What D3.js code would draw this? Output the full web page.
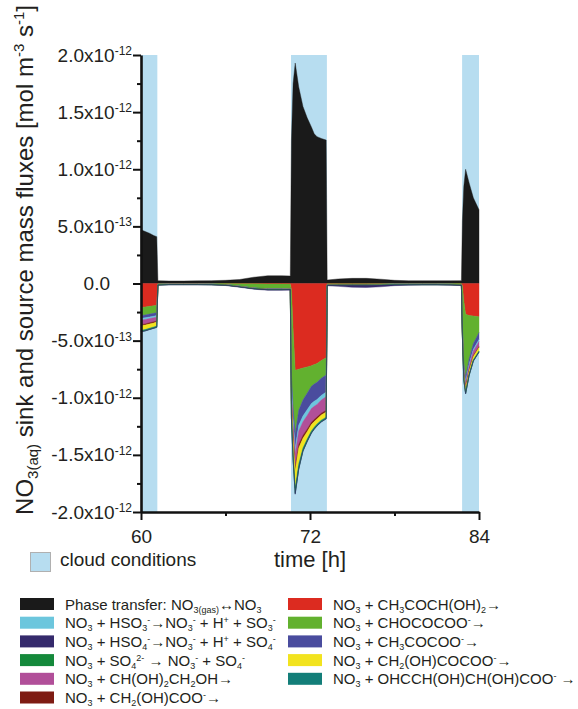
<!DOCTYPE html>
<html>
<head>
<meta charset="utf-8">
<script src="https://cdn.jsdelivr.net/npm/d3@7"></script>
<style>
  html, body { margin: 0; padding: 0; background: #fff; }
  svg { display: block; font-family: "Liberation Sans", Arial, Helvetica, sans-serif; }
</style>
</head>
<body>
<svg id="chart" width="578" height="709"></svg>
<script>
// ---------------- DATA (values in units of 1e-12 mol m-3 s-1) ----------------
const times = [60.0, 60.3, 60.6, 60.9, 61.12, 61.2, 62, 63, 64, 65, 66, 67, 68, 69, 70, 70.6,
  70.68, 70.8, 70.95, 71.2, 71.5, 71.8, 72.1, 72.3, 72.5, 72.8, 73.15,
  73.22, 74, 75, 76, 77, 78, 79, 80, 81, 82, 82.75,
  82.82, 82.92, 83.05, 83.3, 83.6, 84.0];

const phaseTransfer = [0.47, 0.455, 0.44, 0.42, 0.41,
  0.025, 0.022, 0.022, 0.023, 0.025, 0.028, 0.035, 0.055, 0.068, 0.068, 0.066,
  1.25, 1.75, 1.93, 1.72, 1.55, 1.45, 1.37, 1.31, 1.285, 1.27, 1.255,
  0.03, 0.04, 0.045, 0.045, 0.038, 0.028, 0.024, 0.024, 0.024, 0.024, 0.025,
  0.55, 0.85, 1.0, 0.88, 0.75, 0.645];

const ch3coch_oh2 = [-0.21, -0.205, -0.2, -0.195, -0.19,
  -0.002, -0.001, -0.001, -0.001, -0.001, -0.001, -0.002, -0.003, -0.004, -0.004, -0.004,
  -0.05, -0.4, -0.76, -0.75, -0.74, -0.73, -0.72, -0.71, -0.70, -0.675, -0.65,
  -0.003, -0.002, -0.002, -0.002, -0.002, -0.001, -0.001, -0.001, -0.001, -0.001, -0.001,
  -0.02, -0.15, -0.27, -0.28, -0.285, -0.29];

const chococoo = [-0.07, -0.07, -0.068, -0.066, -0.065,
  -0.004, -0.003, -0.003, -0.003, -0.004, -0.008, -0.02, -0.035, -0.042, -0.042, -0.04,
  -0.75, -0.68, -0.56, -0.36, -0.28, -0.23, -0.18, -0.17, -0.165, -0.155, -0.15,
  -0.006, -0.006, -0.006, -0.006, -0.005, -0.004, -0.004, -0.004, -0.004, -0.005, -0.008,
  -0.35, -0.55, -0.55, -0.38, -0.24, -0.14];

const ch3cocoo = [-0.025, -0.025, -0.025, -0.025, -0.025,
  -0.002, -0.001, -0.001, -0.001, -0.001, -0.001, -0.002, -0.002, -0.003, -0.003, -0.003,
  -0.1, -0.11, -0.12, -0.13, -0.14, -0.145, -0.15, -0.15, -0.15, -0.15, -0.15,
  -0.002, -0.002, -0.002, -0.002, -0.002, -0.001, -0.001, -0.001, -0.001, -0.001, -0.001,
  -0.03, -0.04, -0.045, -0.045, -0.05, -0.06];

const hso3 = [-0.015, -0.015, -0.014, -0.013, -0.013,
  -0.001, -0.001, -0.001, -0.001, -0.001, -0.001, -0.001, -0.001, -0.001, -0.001, -0.001,
  -0.04, -0.05, -0.05, -0.05, -0.05, -0.05, -0.045, -0.045, -0.043, -0.04, -0.04,
  -0.001, -0.001, -0.001, -0.001, -0.001, -0.001, -0.001, -0.001, -0.001, -0.001, -0.001,
  -0.01, -0.015, -0.015, -0.015, -0.015, -0.018];

const ethanetriol = [-0.04, -0.039, -0.037, -0.036, -0.035,
  -0.001, -0.001, -0.001, -0.001, -0.001, -0.001, -0.001, -0.001, -0.001, -0.001, -0.001,
  -0.08, -0.1, -0.12, -0.12, -0.12, -0.12, -0.12, -0.115, -0.11, -0.115, -0.12,
  -0.001, -0.001, -0.001, -0.001, -0.001, -0.001, -0.001, -0.001, -0.001, -0.001, -0.001,
  -0.02, -0.03, -0.03, -0.035, -0.04, -0.045];

const glycolate = [-0.01, -0.01, -0.01, -0.01, -0.01,
  -0.0005, -0.0005, -0.0005, -0.0005, -0.0005, -0.0005, -0.0005, -0.0005, -0.0005, -0.0005, -0.0005,
  -0.02, -0.025, -0.03, -0.03, -0.025, -0.022, -0.02, -0.018, -0.017, -0.016, -0.015,
  -0.0005, -0.0005, -0.0005, -0.0005, -0.0005, -0.0005, -0.0005, -0.0005, -0.0005, -0.0005, -0.0005,
  -0.005, -0.008, -0.008, -0.008, -0.008, -0.008];

const hydroxypyruvate = [-0.04, -0.039, -0.037, -0.036, -0.035,
  -0.001, -0.001, -0.001, -0.001, -0.001, -0.001, -0.001, -0.001, -0.001, -0.001, -0.001,
  -0.1, -0.13, -0.15, -0.14, -0.085, -0.065, -0.055, -0.05, -0.045, -0.045, -0.045,
  -0.001, -0.001, -0.001, -0.001, -0.001, -0.001, -0.001, -0.001, -0.001, -0.001, -0.001,
  -0.02, -0.04, -0.035, -0.03, -0.03, -0.03];

const ohcchoh = [-0.008, -0.008, -0.008, -0.007, -0.007,
  -0.0005, -0.0005, -0.0005, -0.0005, -0.0005, -0.0005, -0.0005, -0.0005, -0.0005, -0.0005, -0.0005,
  -0.03, -0.035, -0.04, -0.035, -0.02, -0.015, -0.013, -0.012, -0.012, -0.011, -0.01,
  -0.0005, -0.0005, -0.0005, -0.0005, -0.0005, -0.0005, -0.0005, -0.0005, -0.0005, -0.0005, -0.0005,
  -0.005, -0.008, -0.008, -0.007, -0.007, -0.006];

const so4 = [-0.003, -0.003, -0.003, -0.003, -0.003,
  -0.001, -0.001, -0.001, -0.001, -0.001, -0.001, -0.001, -0.001, -0.001, -0.001, -0.001,
  -0.01, -0.01, -0.01, -0.008, -0.006, -0.005, -0.005, -0.004, -0.004, -0.004, -0.003,
  -0.001, -0.001, -0.001, -0.001, -0.001, -0.001, -0.001, -0.001, -0.001, -0.001, -0.001,
  -0.003, -0.003, -0.003, -0.003, -0.003, -0.003];

const hso4 = [-0.002, -0.002, -0.002, -0.002, -0.002,
  -0.003, -0.003, -0.003, -0.003, -0.003, -0.003, -0.004, -0.005, -0.006, -0.006, -0.006,
  -0.005, -0.005, -0.005, -0.004, -0.003, -0.003, -0.003, -0.002, -0.002, -0.002, -0.002,
  -0.004, -0.01, -0.018, -0.02, -0.015, -0.008, -0.004, -0.003, -0.003, -0.003, -0.003,
  -0.002, -0.002, -0.002, -0.002, -0.002, -0.002];

const cloudStart = [60, 70.65, 82.8];
const cloudEnd = [61.16, 73.2, 84];

const yTickValues = [2, 1.5, 1, 0.5, 0, -0.5, -1, -1.5, -2];
const yMinorValues = [1.75, 1.25, 0.75, 0.25, -0.25, -0.75, -1.25, -1.75];
const yTickMantissa = ["2.0", "1.5", "1.0", "5.0", "0.0", "-5.0", "-1.0", "-1.5", "-2.0"];
const yTickExponent = ["-12", "-12", "-12", "-13", "", "-13", "-12", "-12", "-12"];
const xTickValues = [60, 72, 84];
const xMinorValues = [66, 78];

// series keys in stacking order (negative ones stack away from zero in this order)
const seriesKeys = ["pt", "r7", "r8", "r9", "r2", "r5", "r6", "r10", "r11", "r4", "r3"];
const seriesValues = [phaseTransfer, ch3coch_oh2, chococoo, ch3cocoo, hso3, ethanetriol,
  glycolate, hydroxypyruvate, ohcchoh, so4, hso4];
const seriesColors = ["#1a1a1a", "#dc2b20", "#62b12f", "#4a4c9e", "#6cc6dd", "#b14f99",
  "#7e1b13", "#f2e31f", "#137e79", "#14893b", "#352a6c"];

// legend: [key, label segments]; segment kinds: n normal, b sub, p sup
const legendCol1 = [
  ["pt", [["Phase transfer: NO","n"],["3(gas)","b"],["\u2194NO","n"],["3","b"]]],
  ["r2", [["NO","n"],["3","b"],[" + HSO","n"],["3","b"],["-","p"],["\u2192NO","n"],["3","b"],["-","p"],[" + H","n"],["+","p"],[" + SO","n"],["3","b"],["-","p"]]],
  ["r3", [["NO","n"],["3","b"],[" + HSO","n"],["4","b"],["-","p"],["\u2192NO","n"],["3","b"],["-","p"],[" + H","n"],["+","p"],[" + SO","n"],["4","b"],["-","p"]]],
  ["r4", [["NO","n"],["3","b"],[" + SO","n"],["4","b"],["2-","p"],[" \u2192 NO","n"],["3","b"],["-","p"],[" + SO","n"],["4","b"],["-","p"]]],
  ["r5", [["NO","n"],["3","b"],[" + CH(OH)","n"],["2","b"],["CH","n"],["2","b"],["OH\u2192","n"]]],
  ["r6", [["NO","n"],["3","b"],[" + CH","n"],["2","b"],["(OH)COO","n"],["-","p"],["\u2192","n"]]]
];
const legendCol2 = [
  ["r7", [["NO","n"],["3","b"],[" + CH","n"],["3","b"],["COCH(OH)","n"],["2","b"],["\u2192","n"]]],
  ["r8", [["NO","n"],["3","b"],[" + CHOCOCOO","n"],["-","p"],["\u2192","n"]]],
  ["r9", [["NO","n"],["3","b"],[" + CH","n"],["3","b"],["COCOO","n"],["-","p"],["\u2192","n"]]],
  ["r10", [["NO","n"],["3","b"],[" + CH","n"],["2","b"],["(OH)COCOO","n"],["-","p"],["\u2192","n"]]],
  ["r11", [["NO","n"],["3","b"],[" + OHCCH(OH)CH(OH)COO","n"],["-","p"],[" \u2192","n"]]]
];

// ---------------- DRAW ----------------
const svg = d3.select("#chart");
const textColor = "#231f20";
const x = d3.scaleLinear().domain([60, 84]).range([141, 479]);
const y = d3.scaleLinear().domain([-2, 2]).range([512, 55]);
const color = d3.scaleOrdinal().domain(seriesKeys).range(seriesColors);

const rows = times.map((t, i) => {
  const o = { t };
  seriesKeys.forEach((k, j) => { o[k] = seriesValues[j][i]; });
  return o;
});

// cloud bands
svg.append("g").selectAll("rect").data(cloudStart).join("rect")
  .attr("x", (d) => x(d))
  .attr("width", (d, i) => x(cloudEnd[i]) - x(d))
  .attr("y", y(2))
  .attr("height", y(-2) - y(2))
  .attr("fill", "#b7ddf0");

// stacked areas
const stack = d3.stack().keys(seriesKeys).offset(d3.stackOffsetDiverging);
const stacked = stack(rows);
const area = d3.area()
  .x((d) => x(d.data.t))
  .y0((d) => y(d[0]))
  .y1((d) => y(d[1]));
svg.append("g").selectAll("path").data(stacked).join("path")
  .attr("d", area)
  .attr("fill", (d) => color(d.key))
  .attr("stroke", (d) => color(d.key))
  .attr("stroke-width", 0.4);

// axes
const yAxis = svg.append("g").attr("transform", `translate(${x(60)},0)`)
  .call(d3.axisLeft(y).tickValues(yTickValues).tickSize(8).tickSizeOuter(0).tickPadding(1));
const yMinor = svg.append("g").attr("transform", `translate(${x(60)},0)`)
  .call(d3.axisLeft(y).tickValues(yMinorValues).tickSize(4).tickSizeOuter(0).tickFormat(""));
const xAxis = svg.append("g").attr("transform", `translate(0,${y(-2)})`)
  .call(d3.axisBottom(x).tickValues(xTickValues).tickSize(8).tickSizeOuter(0).tickPadding(10).tickFormat(d3.format("d")));
const xMinor = svg.append("g").attr("transform", `translate(0,${y(-2)})`)
  .call(d3.axisBottom(x).tickValues(xMinorValues).tickSize(4).tickSizeOuter(0).tickFormat(""));

[yAxis, yMinor, xAxis, xMinor].forEach((g) => {
  g.select(".domain").attr("stroke", "#111").attr("stroke-width", 2.6);
  g.selectAll(".tick line").attr("stroke", "#111").attr("stroke-width", 2);
});
xMinor.select(".domain").remove();
yMinor.select(".domain").remove();

yAxis.selectAll(".tick text")
  .attr("font-size", 19).attr("fill", textColor).attr("font-family", "Liberation Sans, Arial, sans-serif")
  .each(function (d, i) {
    const t = d3.select(this);
    t.text(null);
    if (yTickExponent[i] === "") {
      t.attr("x", -31).text(yTickMantissa[i]);
    } else {
      t.append("tspan").text(yTickMantissa[i] + "x10");
      t.append("tspan").attr("dy", "-0.55em").attr("font-size", 12).text(yTickExponent[i]);
    }
  });
xAxis.selectAll(".tick text")
  .attr("font-size", 19).attr("fill", textColor).attr("font-family", "Liberation Sans, Arial, sans-serif");

// axis titles
svg.append("text")
  .attr("x", x(72)).attr("y", 566.5).attr("text-anchor", "middle")
  .attr("font-size", 22).attr("fill", textColor).text("time [h]");

const yTitle = svg.append("text")
  .attr("transform", "translate(33,260) rotate(-90)")
  .attr("text-anchor", "middle").attr("font-size", 24).attr("fill", textColor);
yTitle.append("tspan").text("NO");
yTitle.append("tspan").attr("font-size", 15).attr("dy", 5).text("3(aq)");
yTitle.append("tspan").attr("dy", -5).text(" sink and source mass fluxes [mol m");
yTitle.append("tspan").attr("font-size", 15).attr("dy", -9).text("-3");
yTitle.append("tspan").attr("dy", 9).text(" s");
yTitle.append("tspan").attr("font-size", 15).attr("dy", -9).text("-1");
yTitle.append("tspan").attr("dy", 9).text("]");

// cloud legend
svg.append("rect").attr("x", 30.5).attr("y", 552.5).attr("width", 20).attr("height", 19)
  .attr("fill", "#b7ddf0").attr("stroke", "#b0b0b0").attr("stroke-width", 1);
svg.append("text").attr("x", 60).attr("y", 566).attr("font-size", 19)
  .attr("fill", textColor).text("cloud conditions");

// series legend
function richText(textSel, segs) {
  let cur = 0;
  const off = { n: 0, b: 3, p: -5 };
  segs.forEach(([s, kind]) => {
    const ts = textSel.append("tspan").attr("dy", off[kind] - cur).text(s);
    if (kind !== "n") ts.attr("font-size", 9);
    cur = off[kind];
  });
}

function drawLegend(items, swX, txX) {
  items.forEach(([key, segs], i) => {
    const base = 609.5 + i * 18.7;
    svg.append("rect").attr("x", swX).attr("y", base - 11.5).attr("width", 34).attr("height", 12)
      .attr("fill", color(key));
    const t = svg.append("text").attr("x", txX).attr("y", base).attr("font-size", 15).attr("fill", textColor);
    richText(t, segs);
  });
}
drawLegend(legendCol1, 20, 65);
drawLegend(legendCol2, 288, 333);
</script>
</body>
</html>
